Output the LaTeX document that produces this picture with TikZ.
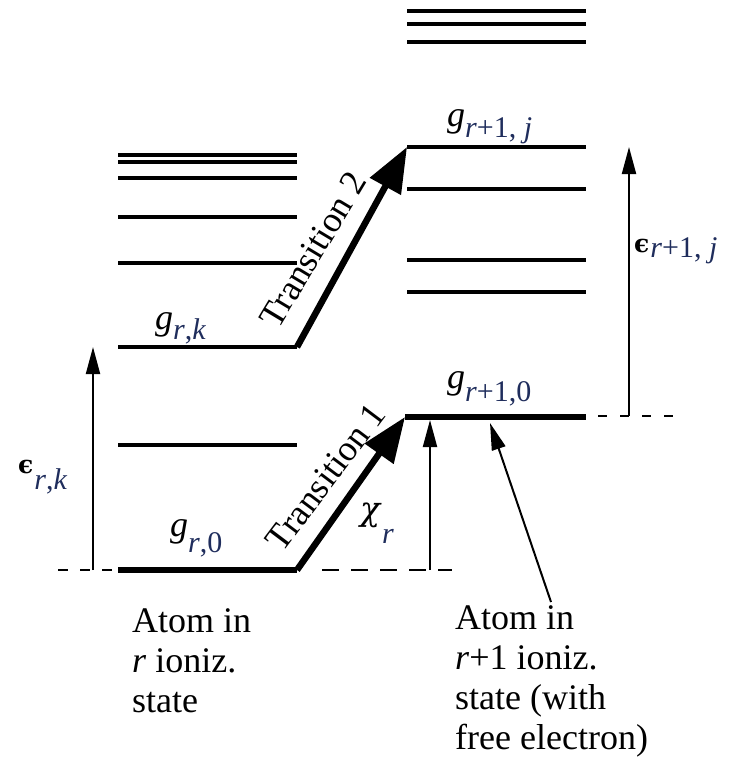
\documentclass[tikz,border=0pt]{standalone}
\usepackage{fontspec}
\setmainfont{Liberation Serif}
\newfontfamily\grk{DejaVu Serif}
\usetikzlibrary{arrows.meta}
\definecolor{subc}{HTML}{1F2D5C}
\newcommand\subtxt[2]{\raisebox{-#1}{\fontsize{30}{30}\selectfont\color{subc}#2}}
\tikzset{
  level/.style={line width=3.4pt},
  ground/.style={line width=6.5pt},
  thinarrow/.style={line width=2pt, -{Triangle[length=27pt,width=14pt]}},
  thickarrow/.style={line width=6.5pt, -{Triangle[length=45pt,width=34pt]}},
  dashline/.style={line width=2pt},
  lbl/.style={inner sep=0pt, anchor=base west},
  big/.style={font=\fontsize{36}{40}\selectfont},
  bottomtext/.style={big, align=left, anchor=base west, inner sep=0pt},
  translabel/.style={big, anchor=base, inner sep=0pt},
}
\begin{document}
\begin{tikzpicture}[x={(1pt,0pt)}, y={(0pt,-1pt)}]
\useasboundingbox (0,0) rectangle (738,757);
% named level end points
\coordinate (g0L) at (118,570); \coordinate (g0R) at (297,570);
\coordinate (gkL) at (118,347); \coordinate (gkR) at (297,347);
\coordinate (h0L) at (405,417); \coordinate (h0R) at (586,417);
\coordinate (hjL) at (407,147); \coordinate (hjR) at (586,147);
% left levels (atom in r ioniz. state)
\foreach \y in {155,162,178,217,263,445} \draw[level] (118,\y) -- (297,\y);
\draw[level] (gkL) -- (gkR);
\draw[ground] (g0L) -- (g0R);
% right levels (atom in r+1 ioniz. state)
\foreach \y in {11,24,42,189,260,292} \draw[level] (407,\y) -- (586,\y);
\draw[level] (hjL) -- (hjR);
\draw[ground] (h0L) -- (h0R);
% dashed reference lines
\coordinate (dlA) at (58,570);  \coordinate (dlB) at (113,570);
\coordinate (dmA) at (322,570); \coordinate (dmB) at (452,570);
\coordinate (drA) at (598,416); \coordinate (drB) at (675,416);
\draw[dashline, dash pattern=on 10pt off 12pt] (dlA) -- (dlB);
\draw[dashline, dash pattern=on 17pt off 12pt] (dmA) -- (dmB);
\draw[dashline, dash pattern=on 9pt off 13pt] (drA) -- (drB);
% thin energy arrows
\coordinate (ekB) at (93,570);  \coordinate (ekT) at (93,347);
\coordinate (chB) at (430,570); \coordinate (chT) at (430,420);
\coordinate (ejB) at (629,416); \coordinate (ejT) at (629,147);
\draw[thinarrow] (ekB) -- (ekT);
\draw[thinarrow] (chB) -- (chT);
\draw[thinarrow] (ejB) -- (ejT);
% transitions
\draw[thickarrow] (g0R) -- (h0L);
\draw[thickarrow] (gkR) -- (hjL);
\node[translabel, rotate=53] (t1) at (335,484) {Transition 1};
\node[translabel, rotate=59] (t2) at (323,256) {Transition 2};
% level labels
\node[lbl] (lg0) at (170,536) {\fontsize{36}{36}\selectfont\textit{g}\subtxt{16pt}{\textit{r},0}};
\node[lbl] (lgk) at (155,329) {\fontsize{36}{36}\selectfont\textit{g}\subtxt{10pt}{\textit{r},\textit{k}}};
\node[lbl] (lh0) at (447,388) {\fontsize{36}{36}\selectfont\textit{g}\subtxt{13pt}{\textit{r}+1,0}};
\node[lbl] (lhj) at (447,127) {\fontsize{36}{36}\selectfont\textit{g}\subtxt{10pt}{\textit{r}+1, \textit{j}}};
\node[lbl] (lek) at (18,473) {{\grk\bfseries\fontsize{25}{25}\selectfont ϵ}\kern1pt\subtxt{16pt}{\textit{r},\textit{k}}};
\node[lbl] (lej) at (634,252) {{\grk\bfseries\fontsize{25}{25}\selectfont ϵ}\kern1pt\subtxt{5pt}{\textit{r}+1, \textit{j}}};
\node[lbl] (lch) at (360,520) {{\grk\itshape\fontsize{33}{33}\selectfont χ}\kern2pt\subtxt{23pt}{\textit{r}}};
% state descriptions
\node[bottomtext] (tl) at (132,712) {Atom in\\\textit{r} ioniz.\\state};
\node[bottomtext] (tr) at (455,749) {Atom in\\\textit{r}+1 ioniz.\\state (with\\free electron)};
% free electron pointer
\coordinate (eB) at (551,602); \coordinate (eT) at (490,423);
\draw[thinarrow] (eB) -- (eT);
\end{tikzpicture}
\end{document}
